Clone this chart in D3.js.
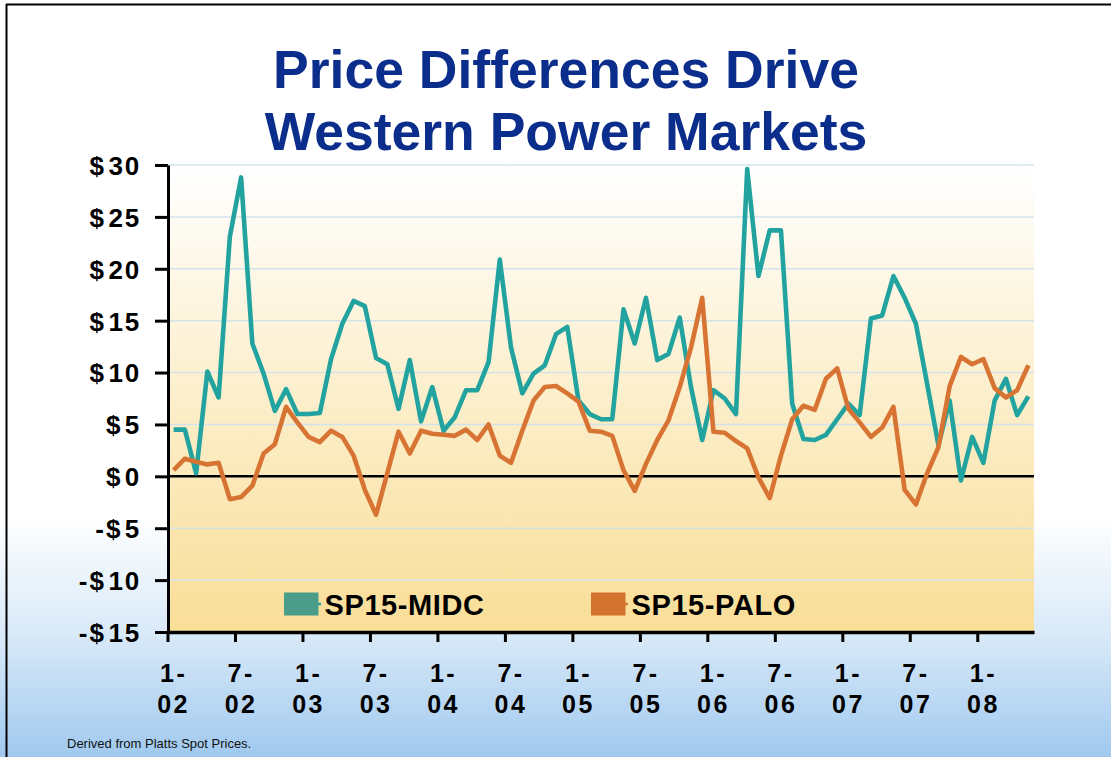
<!DOCTYPE html>
<html><head><meta charset="utf-8">
<script src="https://cdn.jsdelivr.net/npm/d3@7"></script>
<style>html,body{margin:0;padding:0;overflow:hidden;background:#fff}
svg{display:block;font-family:"Liberation Sans",Arial,Helvetica,sans-serif}</style>
</head><body><svg id="c" width="1111" height="757"></svg>
<script>
const months = [
 "1-02","2-02","3-02","4-02","5-02","6-02","7-02","8-02","9-02","10-02","11-02","12-02",
 "1-03","2-03","3-03","4-03","5-03","6-03","7-03","8-03","9-03","10-03","11-03","12-03",
 "1-04","2-04","3-04","4-04","5-04","6-04","7-04","8-04","9-04","10-04","11-04","12-04",
 "1-05","2-05","3-05","4-05","5-05","6-05","7-05","8-05","9-05","10-05","11-05","12-05",
 "1-06","2-06","3-06","4-06","5-06","6-06","7-06","8-06","9-06","10-06","11-06","12-06",
 "1-07","2-07","3-07","4-07","5-07","6-07","7-07","8-07","9-07","10-07","11-07","12-07",
 "1-08","2-08","3-08","4-08","5-08"];
const midc = [
 4.5,4.5,0.3,10.1,7.6,23.1,28.8,12.8,9.9,6.3,8.4,6.0,
 6.0,6.1,11.3,14.7,16.9,16.4,11.4,10.8,6.5,11.2,5.3,8.6,
 4.4,5.7,8.3,8.3,11.0,20.9,12.4,8.0,9.9,10.7,13.7,14.4,
 7.3,6.0,5.5,5.5,16.1,12.8,17.2,11.2,11.8,15.3,8.6,3.5,
 8.3,7.5,6.0,29.6,19.3,23.7,23.7,7.0,3.6,3.5,4.0,5.5,
 7.0,5.9,15.2,15.5,19.3,17.2,14.7,8.9,3.0,7.3,-0.4,3.8,
 1.3,7.3,9.4,5.9,7.7];
const palo = [
 0.6,1.7,1.4,1.15,1.3,-2.2,-2.0,-0.9,2.2,3.1,6.7,5.2,
 3.8,3.3,4.4,3.8,2.0,-1.3,-3.7,0.3,4.3,2.2,4.4,4.1,
 4.0,3.9,4.5,3.5,5.0,2.0,1.3,4.4,7.3,8.6,8.7,8.0,
 7.2,4.4,4.3,3.9,0.6,-1.4,1.2,3.5,5.4,8.6,12.4,17.2,
 4.3,4.2,3.4,2.7,-0.1,-2.1,2.0,5.5,6.8,6.4,9.4,10.4,
 6.5,5.2,3.8,4.7,6.7,-1.3,-2.7,0.3,2.8,8.7,11.5,10.8,
 11.3,8.5,7.6,8.3,10.7];
const yTicks = [-15,-10,-5,0,5,10,15,20,25,30];
const xTickMonths = ["1-02","7-02","1-03","7-03","1-04","7-04","1-05","7-05","1-06","7-06","1-07","7-07","1-08"];
const seriesNames = ["SP15-MIDC","SP15-PALO"];
const titleLines = ["Price Differences Drive","Western Power Markets"];
const sourceNote = "Derived from Platts Spot Prices.";

const svg = d3.select("#c");
const defs = svg.append("defs");
const bg = defs.append("linearGradient").attr("id","bg").attr("x1",0).attr("y1",0).attr("x2",0).attr("y2",1);
[[0,"#ffffff"],[0.68,"#ffffff"],[0.84,"#d8e9f8"],[1,"#a0c9ef"]].forEach(s=>bg.append("stop").attr("offset",s[0]).attr("stop-color",s[1]));
const pg = defs.append("linearGradient").attr("id","pg").attr("x1",0).attr("y1",0).attr("x2",0).attr("y2",1);
[[0,"#ffffff"],[1,"#f9de97"]].forEach(s=>pg.append("stop").attr("offset",s[0]).attr("stop-color",s[1]));

svg.append("rect").attr("width",1111).attr("height",757).attr("fill","url(#bg)");
svg.append("line").attr("x1",6).attr("x2",1111).attr("y1",4.5).attr("y2",4.5).attr("stroke","#000").attr("stroke-width",2);
svg.append("line").attr("x1",6.5).attr("x2",6.5).attr("y1",4).attr("y2",757).attr("stroke","#000").attr("stroke-width",2);

const L=168, R=1034, T=165, B=632;
const x = d3.scaleBand().domain(months).range([L,R]).padding(0);
const y = d3.scaleLinear().domain([-15,30]).range([B,T]);
const bw = x.bandwidth();

svg.append("rect").attr("x",L).attr("y",T).attr("width",R-L).attr("height",B-T).attr("fill","url(#pg)");

// gridlines
svg.append("g").selectAll("line").data(yTicks).join("line")
  .attr("x1",L).attr("x2",R).attr("y1",d=>y(d)).attr("y2",d=>y(d))
  .attr("stroke","#d2e3ea").attr("stroke-width",1.5);

// zero line
svg.append("line").attr("x1",L).attr("x2",R).attr("y1",y(0)).attr("y2",y(0)).attr("stroke","#000").attr("stroke-width",2.5);

// series
const line = d3.line().x((d,i)=>x(months[i])+bw/2).y(d=>y(d));
svg.append("path").datum(midc).attr("d",line).attr("fill","none").attr("stroke","#22a39f").attr("stroke-width",4.6).attr("stroke-linejoin","round");
svg.append("path").datum(palo).attr("d",line).attr("fill","none").attr("stroke","#d87433").attr("stroke-width",4.6).attr("stroke-linejoin","round");

// y axis
const yAxis = svg.append("g").attr("transform",`translate(${L},0)`)
  .call(d3.axisLeft(y).tickValues(yTicks).tickSize(13).tickSizeOuter(0).tickPadding(13.7)
    .tickFormat(d => (d<0?"-$":"$") + Math.abs(d)));
yAxis.select(".domain").attr("stroke","#000").attr("stroke-width",3);
yAxis.selectAll(".tick line").attr("stroke","#000").attr("stroke-width",3);
yAxis.selectAll(".tick text").each(function(d){
  const t = d3.select(this);
  t.text(null).attr("font-size",26).attr("font-weight","bold").attr("fill","#000")
   .attr("font-family",'"Liberation Sans",Arial,sans-serif').attr("letter-spacing","2px").attr("dy","0.36em");
  t.append("tspan").text(d<0?"-$":"$");
  t.append("tspan").attr("dx",2.5).text(Math.abs(d));
});

// x axis
const xAxis = svg.append("g").attr("transform",`translate(0,${B})`)
  .call(d3.axisBottom(x).tickValues(xTickMonths).tickSize(10).tickSizeOuter(0));
xAxis.select(".domain").attr("stroke","#000").attr("stroke-width",3.5);
xAxis.selectAll(".tick line").attr("stroke","#000").attr("stroke-width",3).attr("transform",`translate(${-bw/2},0)`);
xAxis.selectAll(".tick text").each(function(d){
  const t = d3.select(this);
  const parts = d.split("-");
  t.text(null).attr("y",0).attr("dy",null).attr("font-size",25).attr("font-weight","bold").attr("fill","#000")
   .attr("font-family",'"Liberation Sans",Arial,sans-serif').attr("letter-spacing","2.5px").attr("text-anchor","middle");
  t.append("tspan").attr("x",0).attr("y",682-B).text(parts[0]+"-");
  t.append("tspan").attr("x",0).attr("y",713-B).text(parts[1]);
});

// legend
const legendColors = ["#4a9e89","#d4722f"];
const lineColors = ["#22a39f","#d87433"];
const legendX = [284,591];
seriesNames.forEach((n,i)=>{
  const g = svg.append("g");
  g.append("line").attr("x1",legendX[i]).attr("x2",legendX[i]+37).attr("y1",604).attr("y2",604).attr("stroke",lineColors[i]).attr("stroke-width",2.5);
  g.append("rect").attr("x",legendX[i]).attr("y",592.5).attr("width",34.5).attr("height",23).attr("fill",legendColors[i]);
  g.append("text").attr("x",legendX[i]+40.5).attr("y",615).attr("font-size",29).attr("font-weight","bold")
    .attr("letter-spacing","0.6px").attr("fill","#000").text(n);
});

// title
svg.append("g").selectAll("text").data(titleLines).join("text")
  .attr("x",566).attr("y",(d,i)=>88+i*62).attr("text-anchor","middle")
  .attr("font-size",53.5).attr("font-weight","bold").attr("fill","#0b2d8b").text(d=>d);

// source
svg.append("text").attr("x",67).attr("y",748).attr("font-size",13).attr("fill","#111").text(sourceNote);
</script></body></html>
